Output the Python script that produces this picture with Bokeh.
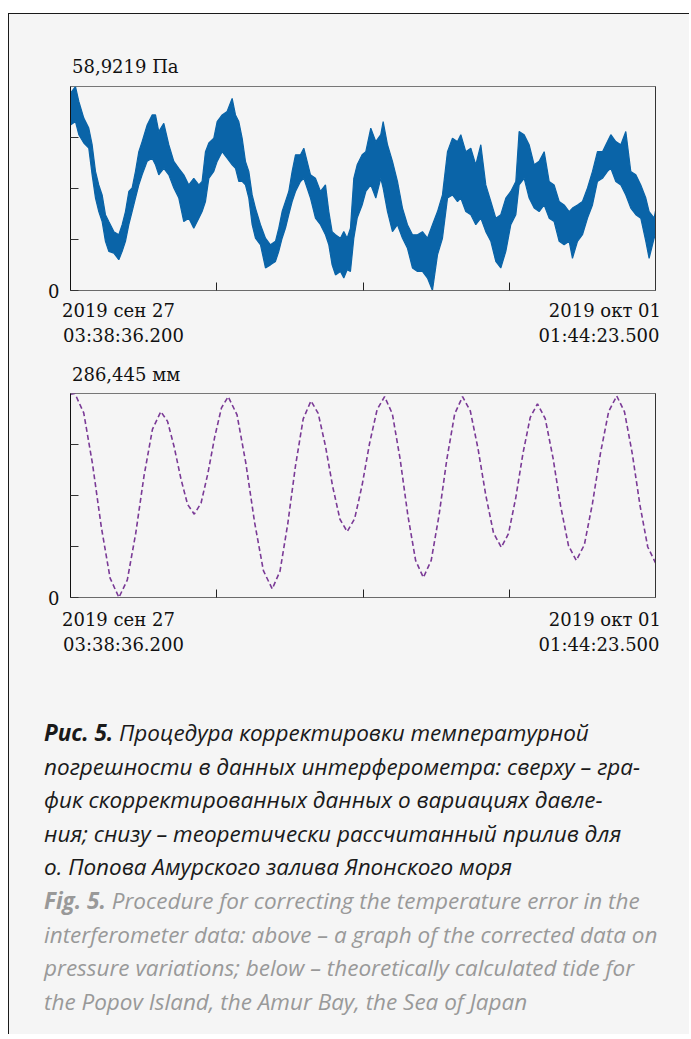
import pandas as pd
from bokeh.plotting import figure
from bokeh.models import Range1d, FixedTicker, CustomJSTickFormatter, LinearAxis, Div
from bokeh.layouts import column
from bokeh.embed import file_html
from bokeh.resources import INLINE

# ---------------- data ----------------
START = "2019-09-27 03:38:36.200"
END = "2019-10-01 01:44:23.500"
x_tick_labels = [("2019 сен 27", "03:38:36.200"), ("2019 окт 01", "01:44:23.500")]

pressure_max = 58.9219
pressure_label = "58,9219 Па"
tide_max = 286.445
tide_label = "286,445 мм"

# corrected pressure variations (Pa): hours from start, upper / lower edge of the noisy trace
pressure_hours = [0.0, 0.80, 1.34, 2.14, 2.94, 3.48, 4.02, 4.55, 5.09, 5.62,
                  6.16, 6.97, 7.77, 8.31, 8.84, 9.38, 9.91, 10.45, 10.99, 11.52,
                  12.33, 13.13, 13.67, 14.20, 15.01, 15.81, 16.62, 17.42, 18.22, 19.03,
                  19.83, 20.64, 21.17, 21.71, 22.25, 23.05, 23.59, 24.39, 25.19, 26.00,
                  26.54, 27.07, 27.61, 28.14, 28.68, 29.22, 29.75, 30.56, 31.36, 32.16,
                  32.97, 33.50, 34.04, 34.58, 35.11, 35.65, 36.19, 36.99, 37.53, 38.06,
                  38.60, 39.40, 40.21, 41.01, 41.55, 42.08, 42.62, 43.42, 43.96, 44.50,
                  45.03, 45.57, 46.11, 46.91, 47.50, 48.30, 49.11, 49.91, 50.29, 50.99,
                  51.79, 52.59, 53.40, 54.20, 55.01, 55.81, 56.61, 57.42, 58.22, 59.03,
                  59.83, 60.64, 61.44, 62.25, 62.78, 63.58, 64.39, 65.19, 66.00, 66.80,
                  67.61, 68.41, 69.21, 70.02, 70.82, 71.63, 72.16, 72.97, 73.77, 74.58,
                  75.38, 76.19, 76.99, 77.79, 78.60, 79.40, 80.21, 80.74, 81.55, 82.35,
                  83.16, 83.96, 84.76, 85.57, 86.37, 86.91, 87.71, 88.52, 89.32, 90.12,
                  90.93, 91.73, 92.54, 93.07, 93.88, 94.10]
pressure_upper = [57.0, 58.9, 54.6, 49.8, 46.9, 42.1, 34.4, 30.5, 27.6, 21.9,
                  19.9, 17.0, 16.1, 19.0, 22.8, 28.6, 29.6, 34.4, 40.1, 43.0,
                  47.8, 50.7, 50.7, 45.9, 48.3, 42.1, 37.3, 35.3, 33.4, 30.5,
                  32.4, 30.5, 31.5, 40.1, 42.6, 44.0, 48.8, 50.7, 51.7, 55.5,
                  50.7, 48.8, 44.0, 37.3, 34.4, 27.6, 23.8, 19.0, 15.1, 13.2,
                  14.2, 18.0, 22.8, 25.7, 28.6, 34.4, 39.2, 39.2, 41.1, 37.3,
                  33.4, 32.4, 28.6, 30.5, 22.8, 17.0, 16.1, 15.1, 17.0, 15.1,
                  18.0, 32.4, 36.3, 39.2, 40.1, 46.9, 43.0, 45.0, 48.8, 42.1,
                  37.3, 31.5, 23.8, 19.0, 16.1, 16.1, 17.0, 15.1, 19.0, 22.8,
                  27.6, 40.1, 44.0, 43.0, 45.0, 40.1, 41.1, 36.3, 42.1, 30.5,
                  25.7, 20.9, 21.9, 26.7, 28.6, 31.5, 45.9, 45.0, 42.1, 36.3,
                  37.3, 40.1, 31.5, 30.5, 25.7, 24.7, 22.8, 23.8, 24.7, 25.7,
                  29.6, 34.4, 40.1, 40.1, 43.0, 45.0, 43.0, 42.1, 45.9, 34.4,
                  33.4, 30.5, 26.7, 22.8, 20.9, 23.0]
pressure_lower = [47.8, 48.8, 45.0, 42.6, 41.1, 33.4, 26.7, 22.8, 19.9, 14.2,
                  11.3, 10.8, 8.9, 11.3, 14.2, 19.0, 22.8, 26.7, 30.5, 33.4,
                  37.3, 38.2, 36.3, 33.4, 35.3, 33.4, 29.6, 26.7, 19.9, 20.9,
                  18.0, 20.9, 22.8, 25.7, 32.4, 34.4, 37.3, 40.1, 38.2, 36.3,
                  35.3, 31.5, 31.5, 30.5, 26.7, 19.0, 15.1, 13.2, 6.5, 7.4,
                  8.4, 11.3, 15.1, 18.0, 21.9, 25.7, 28.6, 31.5, 32.4, 29.6,
                  26.7, 20.9, 19.0, 16.1, 13.2, 7.4, 4.5, 5.5, 3.6, 6.0,
                  5.5, 15.1, 20.9, 24.7, 28.6, 30.5, 26.7, 32.4, 29.6, 22.8,
                  17.0, 19.0, 15.1, 12.2, 6.5, 5.5, 5.5, 3.6, 0.0, 10.3,
                  15.1, 26.7, 27.6, 25.7, 26.7, 22.8, 21.9, 19.0, 20.9, 17.0,
                  14.2, 8.4, 6.5, 11.3, 19.0, 21.9, 30.5, 32.4, 26.7, 23.8,
                  22.8, 24.7, 20.9, 19.9, 14.2, 13.2, 14.2, 9.3, 14.2, 16.1,
                  20.9, 24.7, 31.5, 32.4, 34.4, 35.3, 31.5, 30.5, 27.6, 23.8,
                  21.9, 20.9, 14.2, 9.3, 15.1, 16.5]

# theoretical tide (mm): hours from start
tide_hours = [0.0, 0.71, 2.13, 3.54, 4.96, 6.37, 7.79, 9.14, 10.49, 11.83, 13.18, 14.53,
              15.61, 16.68, 17.76, 18.83, 19.91, 21.00, 22.09, 23.19, 24.28, 25.37,
              26.79, 28.20, 29.62, 31.03, 32.45, 33.70, 34.94, 36.19, 37.43, 38.68,
              39.84, 41.01, 42.17, 43.34, 44.50, 45.70, 46.91, 48.11, 49.32, 50.52,
              51.77, 53.02, 54.26, 55.51, 56.76, 58.02, 59.28, 60.54, 61.80, 63.06,
              64.31, 65.55, 66.80, 68.04, 69.29, 70.45, 71.62, 72.78, 73.95, 75.11,
              76.36, 77.61, 78.85, 80.10, 81.35, 82.65, 83.95, 85.26, 86.56, 87.86,
              89.11, 90.36, 91.60, 92.85, 94.10]
tide_mm = [285.5, 286.4, 259.2, 187.6, 98.8, 27.2, 0.0, 24.8, 90.0, 171.0, 236.2, 261.0,
           247.3, 211.3, 166.7, 130.7, 117.0, 132.7, 173.9, 225.1, 266.3, 282.0,
           256.3, 188.8, 105.1, 37.6, 12.0, 37.1, 103.1, 184.9, 250.9, 276.0,
           258.6, 212.7, 155.8, 109.9, 92.5, 110.5, 157.9, 216.6, 264.0, 282.0,
           257.9, 194.4, 115.6, 52.1, 28.0, 52.1, 115.6, 194.4, 257.9, 282.0,
           261.9, 209.0, 143.5, 90.6, 70.5, 89.6, 140.0, 202.5, 252.9, 272.0,
           251.1, 196.1, 127.9, 72.9, 52.0, 73.9, 131.7, 203.3, 261.1, 283.0,
           260.7, 202.1, 129.5, 70.9, 48.6]

caption_ru = ["Процедура корректировки температурной",
              "погрешности в данных интерферометра: сверху – гра-",
              "фик скорректированных данных о вариациях давле-",
              "ния; снизу – теоретически рассчитанный прилив для",
              "о. Попова Амурского залива Японского моря"]
caption_en = ["Procedure for correcting the temperature error in the",
              "interferometer data: above – a graph of the corrected data on",
              "pressure variations; below – theoretically calculated tide for",
              "the Popov Island, the Amur Bay, the Sea of Japan"]

# ---------------- styling ----------------
BG = "#f5f5f5"
BLUE = "#0a64a8"
PURPLE = "#7a3a96"
SERIF = "DejaVu Serif"
FS = "18px"
W = 680
BL, BR = 61, 34          # left / right canvas borders around the frame
BT, BB = 8, 13           # top / bottom canvas borders
FRAME_H = 204

t0 = pd.Timestamp(START)
t1 = pd.Timestamp(END)
ms0 = t0.value / 1e6
ms1 = t1.value / 1e6


def to_dt(hours):
    return [t0 + pd.Timedelta(hours=h) for h in hours]


def serif_style():
    return (f"font-family: '{SERIF}', serif; font-size: {FS}; line-height: 25px; "
            "color: #111111; white-space: nowrap;")


def value_label(text, height, pad_top):
    html = (f'<div style="{serif_style()} padding: {pad_top}px 0 0 63px;">{text}</div>')
    return Div(text=html, width=W, height=height, margin=0)


def make_chart(ymax):
    p = figure(width=W, height=BT + FRAME_H + BB, x_axis_type="datetime",
               x_range=Range1d(t0, t1), y_range=Range1d(0, ymax),
               output_backend="svg", toolbar_location=None, title=None,
               min_border_left=BL, min_border_right=BR,
               min_border_top=BT, min_border_bottom=BB,
               background_fill_color=BG, border_fill_color=BG,
               outline_line_color="#777777")
    p.grid.visible = False

    ya = p.yaxis[0]
    ya.ticker = FixedTicker(ticks=[0, ymax / 4, ymax / 2, 3 * ymax / 4])
    ya.formatter = CustomJSTickFormatter(code="return tick == 0 ? '0' : '';")
    ya.major_tick_in = 8
    ya.major_tick_out = 0
    ya.minor_tick_line_color = None
    ya.axis_line_color = "#111111"
    ya.major_tick_line_color = "#333333"
    ya.major_label_text_font = SERIF
    ya.major_label_text_font_size = FS
    ya.major_label_text_color = "#111111"
    ya.major_label_standoff = 11

    xa = p.xaxis[0]
    xa.ticker = FixedTicker(ticks=[ms0 + k * (ms1 - ms0) / 4 for k in (1, 2, 3)])
    xa.formatter = CustomJSTickFormatter(code="return '';")
    xa.major_tick_in = 8
    xa.major_tick_out = 0
    xa.minor_tick_line_color = None
    xa.axis_line_color = "#6a6a6a"
    xa.major_tick_line_color = "#222222"
    xa.major_label_text_font_size = "0px"
    xa.major_label_standoff = 0

    ra = LinearAxis(ticker=FixedTicker(ticks=[]), major_tick_line_color=None,
                    minor_tick_line_color=None, axis_line_color="#333333",
                    major_label_standoff=0)
    p.add_layout(ra, "right")
    return p


def tick_label_strip(height, shift):
    (d0, h0), (d1, h1) = x_tick_labels
    html = (
        f'<div style="{serif_style()} width: {W}px; box-sizing: border-box; '
        f'padding: 0 28px 0 53px; position: relative; top: {shift}px; display: flex; '
        'justify-content: space-between;">'
        f'<div style="text-align: left;"><div>{d0}</div><div style="margin-left: 1px;">{h0}</div></div>'
        f'<div style="text-align: right;"><div>{d1}</div><div style="margin-right: 1.5px;">{h1}</div></div>'
        '</div>'
    )
    return Div(text=html, width=W, height=height, margin=0)


# top chart: corrected pressure
top1 = value_label(pressure_label, 64, 40)
p1 = make_chart(pressure_max)
px = to_dt(pressure_hours)
p1.varea(x=px, y1=pressure_lower, y2=pressure_upper, fill_color=BLUE)
p1.line(x=px, y=pressure_upper, line_color=BLUE, line_width=1.2)
p1.line(x=px, y=pressure_lower, line_color=BLUE, line_width=1.2)
lab1 = tick_label_strip(52, -5)

# bottom chart: theoretical tide
top2 = value_label(tide_label, 30, 7)
p2 = make_chart(tide_max)
p2.line(x=to_dt(tide_hours), y=tide_mm, line_color=PURPLE, line_width=1.6, line_dash="5 3")
lab2 = tick_label_strip(54, -3)

ru = "<br>".join(caption_ru)
en = "<br>".join(caption_en)
html = (
    '<div style="font-family: \'Open Sans\', sans-serif; font-style: italic; font-size: 22.5px; '
    'line-height: 33.6px; padding: 52px 0 0 35px; white-space: nowrap;">'
    '<span style="color:#1a1a1a;"><b>Рис. 5.</b> ' + ru + '</span><br>'
    '<span style="color:#999999;"><b>Fig. 5.</b> ' + en + '</span></div>'
)
cap = Div(text=html, width=W, height=370, margin=0)

layout = column(top1, p1, lab1, top2, p2, lab2, cap, spacing=0,
                styles={"background-color": BG,
                        "border-left": "1px solid #1a1a1a",
                        "border-top": "1px solid #1a1a1a",
                        "margin-left": "8px", "margin-top": "13px"})

open("out.html", "w").write(file_html(layout, INLINE))
